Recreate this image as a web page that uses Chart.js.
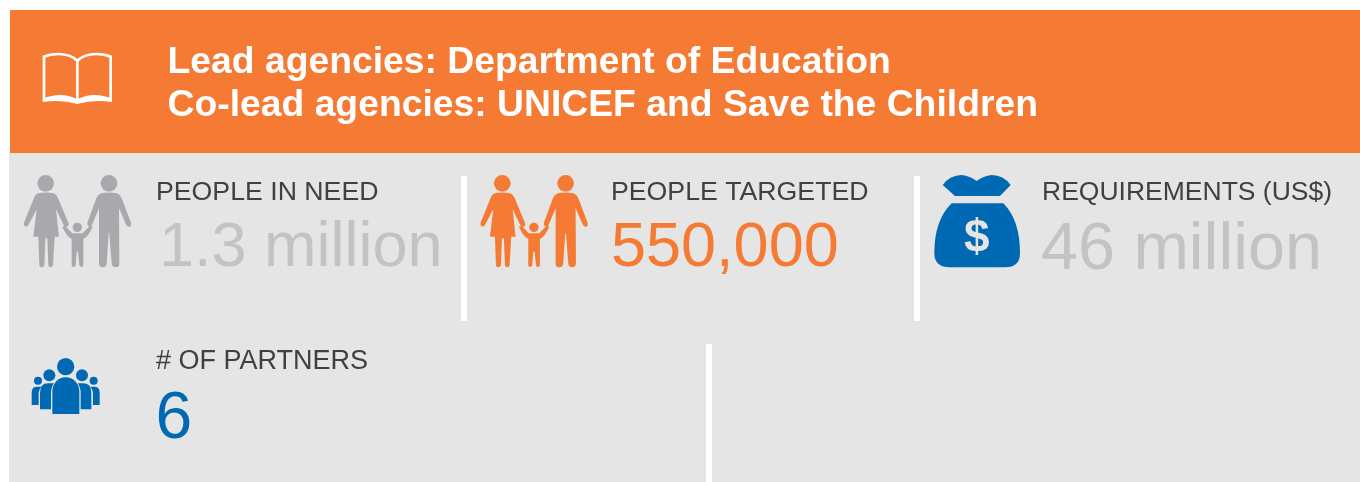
<!DOCTYPE html>
<html>
<head>
<meta charset="utf-8">
<title>Education cluster summary</title>
<script src="https://cdn.jsdelivr.net/npm/chart.js@4"></script>
<style>
html,body{margin:0;padding:0;background:#fff;overflow:hidden}
canvas{display:block}
</style>
</head>
<body>
<canvas id="panel" width="1360" height="482"></canvas>
<script>
// Text content of the summary panel
const headerLines = ['Lead agencies: Department of Education', 'Co-lead agencies: UNICEF and Save the Children'];
const statLabels = ['PEOPLE IN NEED', 'PEOPLE TARGETED', 'REQUIREMENTS (US$)', '# OF PARTNERS'];
const statValues = ['1.3 million', '550,000', '46 million', '6'];

// Palette
const ORANGE = '#F57A33', BAND = '#E5E5E5', LABEL = '#404040', MUTED = '#C3C3C3', BLUE = '#0069B4', ICON_GREY = '#A7A9AC';
const statColors = [MUTED, ORANGE, MUTED, BLUE];

// Layout of each stat block: label x/baseline/size, value x/baseline/size
const statLayout = [
  {lx:156, ly:200, ls:26.7, vx:159, vy:266, vs:63},
  {lx:611, ly:200, ls:26.7, vx:611, vy:266, vs:63},
  {lx:1042, ly:200, ls:26.5, vx:1041, vy:268.5, vs:66.5},
  {lx:156, ly:369, ls:27, vx:155.5, vy:438, vs:66}
];
const dividers = [[461,176,6,145],[914,176,6,145],[706,344,6,138]];

// Icon outlines are drawn on a 3x grid and scaled down
const WOMAN = 'M58 69Q77 66 97 69Q108 71 114 84L145 158Q148 168 141 170Q135 171 131 165L108 118L117 200L104 200L99 285Q98 292 92 292Q86 292 85 285L82 205L76 205L73 285Q72 292 65 292Q58 292 58 285L55 200L40 200L50 118L25 165Q21 171 15 169Q10 166 12 158L42 84Q47 71 58 69Z';
const MAN = 'M247 69Q267 66 288 69Q300 72 306 87L333 158Q335 168 329 170Q323 171 319 165L297 115L298 280Q298 292 287 292Q276 292 275 280L268 190L266 190L260 280Q259 292 248 292Q237 292 237 280L237 115L216 165Q212 171 206 169Q201 166 202 158L228 87Q234 72 247 69Z';
const CHILD = 'M127 170L135 167L157 190L188 190L210 167L218 170Q205 200 190 207L190 285Q190 291 184 291Q179 291 178 285L174 245L170 245L167 285Q166 291 161 291Q155 291 155 285L155 207Q140 200 127 170Z';
const BAG_TOP = 'M53 45Q75 15 110 15Q135 18 155 33Q175 18 200 15Q235 15 257 45L225 78L90 78Z';
const BAG_BODY = 'M80 100L235 100Q285 150 285 250Q285 292 240 292L75 292Q28 292 28 250Q28 150 80 100Z';
const CROWD = [
  'M82 192L82 125C82 100 100 82 122 82C144 82 163 100 163 125L163 192Z',
  'M45 178L78 178L78 125Q80 108 87 100L70 100Q45 100 45 128Z',
  'M199 178L167 178L167 125Q165 108 158 100L174 100Q199 100 199 128Z',
  'M20 165L41 165L41 130Q43 115 50 110L34 110Q20 110 20 128Z',
  'M224 165L204 165L204 130Q202 115 195 110L210 110Q224 110 224 128Z'
];
const BOOK_LINES = 'M142 185L142 62Q120 42 85 42Q60 42 42 50L42 178M142 185L142 62Q164 42 199 42Q224 42 242 50L242 178';
const BOOK_FILL = 'M38 186L38 176Q95 153 142 178Q190 153 246 176L246 186Q190 178 142 192Q95 178 38 186Z';

function iconFrame(ctx, x, y, draw) {
  ctx.save();
  ctx.translate(x, y);
  ctx.scale(1/3, 1/3);
  draw();
  ctx.restore();
}
function dot(ctx, cx, cy, r) {
  ctx.beginPath();
  ctx.arc(cx, cy, r, 0, Math.PI * 2);
  ctx.fill();
}
function family(ctx, x, y, color) {
  iconFrame(ctx, x, y, () => {
    ctx.fillStyle = color;
    [WOMAN, MAN, CHILD].forEach(p => ctx.fill(new Path2D(p)));
    dot(ctx, 77, 40, 25);
    dot(ctx, 267, 40, 25);
    dot(ctx, 172, 172, 14);
  });
}
function moneyBag(ctx, x, y) {
  iconFrame(ctx, x, y, () => {
    ctx.fillStyle = BLUE;
    ctx.fill(new Path2D(BAG_TOP));
    ctx.fill(new Path2D(BAG_BODY));
  });
  ctx.fillStyle = BAND;
  ctx.font = 'bold 46px "Liberation Sans"';
  ctx.textAlign = 'center';
  ctx.fillText('$', x + 51.7, y + 82);
  ctx.textAlign = 'left';
}
function crowd(ctx, x, y) {
  iconFrame(ctx, x, y, () => {
    ctx.fillStyle = BLUE;
    CROWD.forEach(p => ctx.fill(new Path2D(p)));
    dot(ctx, 122, 50, 26);
    dot(ctx, 73, 76, 18);
    dot(ctx, 171, 76, 18);
    dot(ctx, 39, 92, 12);
    dot(ctx, 206, 92, 12);
  });
}
function book(ctx, x, y) {
  iconFrame(ctx, x, y, () => {
    ctx.strokeStyle = '#FFFFFF';
    ctx.fillStyle = '#FFFFFF';
    ctx.lineWidth = 8;
    ctx.stroke(new Path2D(BOOK_LINES));
    ctx.fill(new Path2D(BOOK_FILL));
  });
}

// Draws the whole panel through the chart's pixel-aligned scales
const panelPlugin = {
  id: 'summaryPanel',
  beforeDatasetsDraw(chart) {
    const ctx = chart.ctx, sx = chart.scales.x, sy = chart.scales.y;
    const rect = (x, y, w, h, c) => {
      ctx.fillStyle = c;
      ctx.fillRect(sx.getPixelForValue(x), sy.getPixelForValue(y), w, h);
    };
    ctx.save();
    rect(9, 153, 1351, 329, BAND);
    rect(10, 10, 1350, 143, ORANGE);
    dividers.forEach(d => rect(d[0], d[1], d[2], d[3], '#FFFFFF'));

    ctx.textBaseline = 'alphabetic';
    ctx.textAlign = 'left';
    ctx.fillStyle = '#FFFFFF';
    ctx.font = 'bold 37.3px "Liberation Sans"';
    ctx.fillText(headerLines[0], 167.5, 73);
    ctx.fillText(headerLines[1], 167.5, 116);

    statLabels.forEach((label, i) => {
      const p = statLayout[i];
      ctx.fillStyle = LABEL;
      ctx.font = p.ls + 'px "Liberation Sans"';
      ctx.fillText(label, p.lx, p.ly);
      ctx.fillStyle = statColors[i];
      ctx.font = p.vs + 'px "Liberation Sans"';
      ctx.fillText(statValues[i], p.vx, p.vy);
    });

    book(ctx, 30, 40);
    family(ctx, 20, 170, ICON_GREY);
    family(ctx, 476.6, 170, ORANGE);
    moneyBag(ctx, 925, 170);
    crowd(ctx, 25, 350);
    ctx.restore();
  }
};

new Chart(document.getElementById('panel'), {
  type: 'scatter',
  data: {datasets: []},
  options: {
    responsive: false,
    animation: false,
    layout: {padding: 0},
    plugins: {legend: {display: false}, title: {display: false}, tooltip: {enabled: false}},
    scales: {
      x: {type: 'linear', min: 0, max: 1360, display: false},
      y: {type: 'linear', min: 0, max: 482, reverse: true, display: false}
    }
  },
  plugins: [panelPlugin]
});
</script>
</body>
</html>
